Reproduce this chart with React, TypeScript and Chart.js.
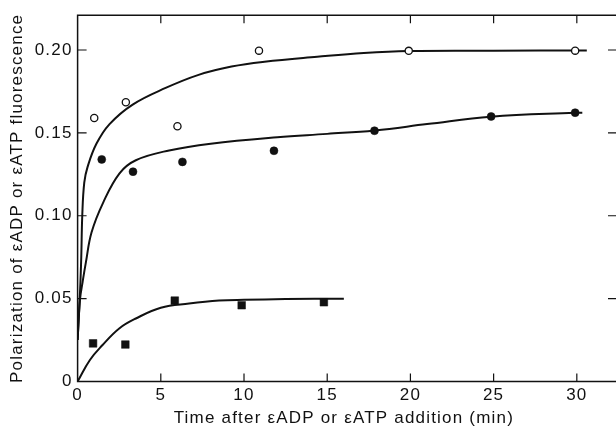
import React, { useEffect, useRef } from 'react';
import { Chart, registerables } from 'chart.js';
Chart.register(...registerables);

const FONT = "'Liberation Sans', Arial, Helvetica, sans-serif";
const INK = '#111111';

// Measured points
const openX = [1.0, 2.9, 6.0, 10.9, 19.9, 29.9];
const openY = [0.159, 0.1685, 0.154, 0.1996, 0.1995, 0.1996];
const filledX = [1.45, 3.33, 6.3, 11.8, 17.84, 24.85, 29.9];
const filledY = [0.134, 0.1266, 0.1325, 0.1392, 0.1513, 0.1599, 0.1622];
const squareX = [0.93, 2.87, 5.84, 9.86, 14.8];
const squareY = [0.023, 0.0223, 0.0488, 0.046, 0.0478];

// Fitted curves
const openCurveX = [0, 0.15, 0.22, 0.28, 0.4, 0.6, 1.13, 1.92, 3.31, 5.29, 7.27, 9.25, 11.23, 14.4, 17.2, 19.9, 25, 30.6];
const openCurveY = [0.025, 0.055, 0.075, 0.1, 0.12, 0.1295, 0.1434, 0.1553, 0.1671, 0.1771, 0.185, 0.19, 0.1929, 0.1959, 0.1982, 0.1994, 0.1996, 0.1997];
const filledCurveX = [0, 0.15, 0.3, 0.5, 0.84, 1.53, 2.52, 3.5, 5.5, 8, 12, 15, 17.86, 21, 24.83, 29.87, 30.33];
const filledCurveY = [0.025, 0.05, 0.06, 0.072, 0.09, 0.1078, 0.1256, 0.1335, 0.1394, 0.1435, 0.1474, 0.1494, 0.1515, 0.1553, 0.1598, 0.1622, 0.1622];
const squareCurveX = [0, 0.74, 1.5, 2.5, 3.5, 5, 6.7, 8.5, 10, 12.5, 16];
const squareCurveY = [0, 0.013, 0.022, 0.032, 0.038, 0.0445, 0.047, 0.0488, 0.0493, 0.0497, 0.05];

const xTickValues = [5, 10, 15, 20, 25, 30];
const yTickValues = [0.05, 0.1, 0.15, 0.2];

const xTitle = 'Time after \u03b5ADP or \u03b5ATP addition (min)';
const yTitle = 'Polarization of \u03b5ADP or \u03b5ATP fluorescence';

const pts = (xs: number[], ys: number[]) => xs.map((x, i) => ({ x, y: ys[i] }));

export default function App() {
  const ref = useRef<HTMLCanvasElement>(null);
  useEffect(() => {
    if (!ref.current) return;
    const spacing = {
      id: 'spacing',
      beforeUpdate(chart: any) { chart.ctx.letterSpacing = '1.2px'; },
      beforeDraw(chart: any) { chart.ctx.letterSpacing = '1.2px'; },
    };
    const frame = {
      id: 'frame',
      afterDraw(chart: any) {
        const { ctx, chartArea, scales } = chart;
        const { left, top, bottom } = chartArea;
        const right = chart.width;
        ctx.save();
        ctx.strokeStyle = INK;
        ctx.lineWidth = 1.5;
        ctx.beginPath();
        ctx.moveTo(right, top); ctx.lineTo(left, top); ctx.lineTo(left, bottom); ctx.lineTo(right, bottom);
        ctx.stroke();
        ctx.lineWidth = 1.2;
        ctx.beginPath();
        for (const v of xTickValues) {
          const px = scales.x.getPixelForValue(v);
          ctx.moveTo(px, bottom); ctx.lineTo(px, bottom - 8);
          ctx.moveTo(px, top); ctx.lineTo(px, top + 8);
        }
        for (const v of yTickValues) {
          const py = scales.y.getPixelForValue(v);
          ctx.moveTo(left, py); ctx.lineTo(left + 9, py);
          ctx.moveTo(right, py); ctx.lineTo(right - 8, py);
        }
        ctx.stroke();
        ctx.restore();
      },
    };
    const lineDs = (xs: number[], ys: number[]) => ({
      data: pts(xs, ys),
      showLine: true,
      borderColor: INK,
      borderWidth: 2,
      pointRadius: 0,
      fill: false,
      tension: 0.4,
    });
    const chart = new Chart(ref.current, {
      type: 'line',
      data: {
        datasets: [
          { ...lineDs(openCurveX, openCurveY), order: 5 },
          { ...lineDs(filledCurveX, filledCurveY), order: 5 },
          { ...lineDs(squareCurveX, squareCurveY), order: 5 },
          {
            data: pts(openX, openY), showLine: false, pointStyle: 'circle', pointRadius: 3.6,
            pointBorderWidth: 1.3, pointBorderColor: INK, pointBackgroundColor: '#ffffff', order: 1,
          },
          {
            data: pts(filledX, filledY), showLine: false, pointStyle: 'circle', pointRadius: 4,
            pointBorderWidth: 0.5, pointBorderColor: INK, pointBackgroundColor: INK, order: 1,
          },
          {
            data: pts(squareX, squareY), showLine: false, pointStyle: 'rect', pointRadius: 5.4,
            pointBorderWidth: 0.5, pointBorderColor: INK, pointBackgroundColor: INK, order: 1,
          },
        ],
      },
      options: {
        animation: false,
        responsive: false,
        layout: { padding: { top: 9, left: 0, right: 0, bottom: 0 } },
        plugins: { legend: { display: false }, tooltip: { enabled: false } },
        scales: {
          x: {
            type: 'linear', min: 0, max: 32,
            grid: { display: false, drawTicks: false }, border: { display: false },
            ticks: { stepSize: 5, includeBounds: false, color: INK, font: { family: FONT, size: 17 }, padding: 4, maxRotation: 0 },
            title: { display: true, text: xTitle, color: INK, font: { family: FONT, size: 17 }, padding: { top: 0, bottom: 0 } },
            afterFit: (s: any) => { s.height = 47.5; },
          },
          y: {
            type: 'linear', min: 0, max: 0.221,
            grid: { display: false, drawTicks: false }, border: { display: false },
            ticks: {
              stepSize: 0.05, includeBounds: false, color: INK, font: { family: FONT, size: 17 }, padding: 5,
              callback: (v: any) => (Math.abs(v) < 1e-9 ? '0' : Number(v).toFixed(2)),
            },
            title: { display: true, text: yTitle, color: INK, font: { family: FONT, size: 17 }, padding: { top: 7, bottom: 0 } },
            afterFit: (s: any) => { s.width = 77.6; },
          },
        },
      },
      plugins: [spacing, frame],
    } as any);
    return () => chart.destroy();
  }, []);
  return (
    <div style={{ position: 'fixed', left: 0, top: 0, width: 616, height: 429, background: '#fff' }}>
      <canvas ref={ref} width={616} height={429} style={{ display: 'block' }} />
    </div>
  );
}
